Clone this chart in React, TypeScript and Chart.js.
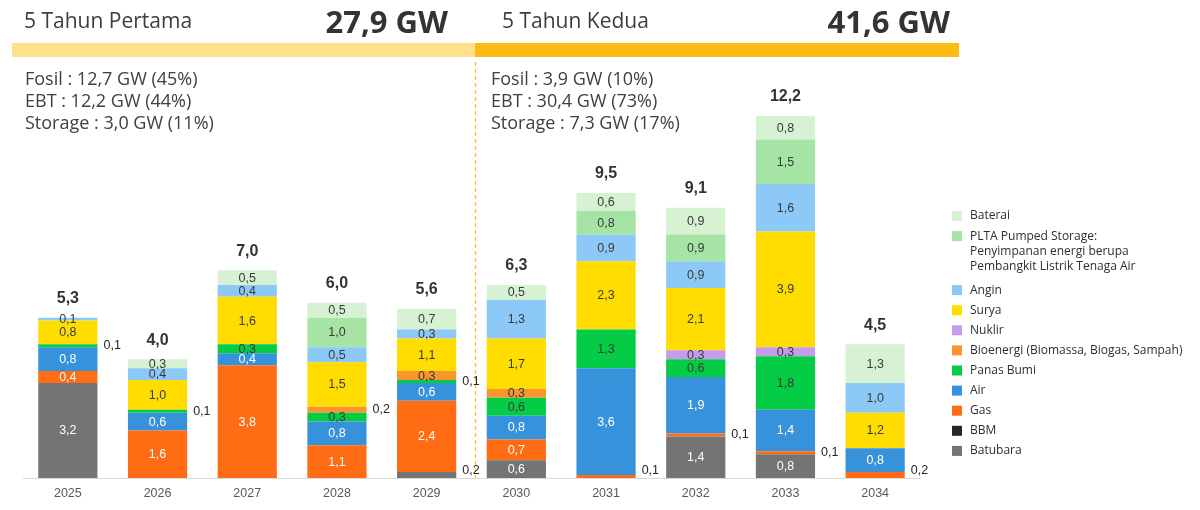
import { useEffect, useRef } from 'react';
import { Chart, registerables } from 'chart.js';

Chart.register(...registerables);

// Tambahan kapasitas pembangkit per tahun (GW)
const years = ['2025', '2026', '2027', '2028', '2029', '2030', '2031', '2032', '2033', '2034'];
const totals = ['5,3', '4,0', '7,0', '6,0', '5,6', '6,3', '9,5', '9,1', '12,2', '4,5'];

const batubara = [3.2, 0, 0, 0, 0.2, 0.6, 0, 1.4, 0.8, 0];
const bbm = [0, 0, 0, 0, 0, 0, 0, 0, 0, 0];
const gas = [0.4, 1.6, 3.8, 1.1, 2.4, 0.7, 0.1, 0.1, 0.1, 0.2];
const air = [0.8, 0.6, 0.4, 0.8, 0.6, 0.8, 3.6, 1.9, 1.4, 0.8];
const panasBumi = [0.1, 0.1, 0.3, 0.3, 0.1, 0.6, 1.3, 0.6, 1.8, 0];
const bioenergi = [0, 0, 0, 0.2, 0.3, 0.3, 0, 0, 0, 0];
const nuklir = [0, 0, 0, 0, 0, 0, 0, 0.3, 0.3, 0];
const surya = [0.8, 1.0, 1.6, 1.5, 1.1, 1.7, 2.3, 2.1, 3.9, 1.2];
const angin = [0.1, 0.4, 0.4, 0.5, 0.3, 1.3, 0.9, 0.9, 1.6, 1.0];
const pumpedStorage = [0, 0, 0, 1.0, 0, 0, 0.8, 0.9, 1.5, 0];
const baterai = [0, 0.3, 0.5, 0.5, 0.7, 0.5, 0.6, 0.9, 0.8, 1.3];

// Ringkasan per periode
const periodTitles = ['5 Tahun Pertama', '5 Tahun Kedua'];
const periodTotals = ['27,9 GW', '41,6 GW'];
const periodSummary = [
  ['Fosil : 12,7 GW (45%)', 'EBT : 12,2 GW (44%)', 'Storage : 3,0 GW (11%)'],
  ['Fosil : 3,9 GW (10%)', 'EBT : 30,4 GW (73%)', 'Storage : 7,3 GW (17%)'],
];

// Urutan tumpukan dari bawah ke atas
const series = [
  { label: ['Batubara'], data: batubara, color: '#747474', text: '#ffffff' },
  { label: ['BBM'], data: bbm, color: '#262626', text: '#ffffff' },
  { label: ['Gas'], data: gas, color: '#ff6c14', text: '#ffffff' },
  { label: ['Air'], data: air, color: '#3792dc', text: '#ffffff' },
  { label: ['Panas Bumi'], data: panasBumi, color: '#05cc45', text: '#3a3a3a' },
  { label: ['Bioenergi (Biomassa, Biogas, Sampah)'], data: bioenergi, color: '#f8952e', text: '#3a3a3a' },
  { label: ['Nuklir'], data: nuklir, color: '#c39cee', text: '#3a3a3a' },
  { label: ['Surya'], data: surya, color: '#ffdd00', text: '#3a3a3a' },
  { label: ['Angin'], data: angin, color: '#8dc9f6', text: '#3a3a3a' },
  {
    label: ['PLTA Pumped Storage:', 'Penyimpanan energi berupa', 'Pembangkit Listrik Tenaga Air'],
    data: pumpedStorage,
    color: '#a6e4a5',
    text: '#3a3a3a',
  },
  { label: ['Baterai'], data: baterai, color: '#d6f2d3', text: '#3a3a3a' },
];

const fmt = (v: number) => v.toFixed(1).replace('.', ',');

const headerPlugin = {
  id: 'header',
  beforeDraw(chart: any) {
    const ctx = chart.ctx;
    const area = chart.chartArea;
    ctx.save();
    // pita periode
    ctx.fillStyle = '#fde18c';
    ctx.fillRect(12, 43, 463, 14);
    ctx.fillStyle = '#fcbc14';
    ctx.fillRect(475, 43, 484, 14);
    // garis batas periode
    ctx.strokeStyle = '#f5c02a';
    ctx.lineWidth = 1.3;
    ctx.setLineDash([4, 3]);
    ctx.beginPath();
    ctx.moveTo(475.5, 62);
    ctx.lineTo(475.5, area.bottom);
    ctx.stroke();
    ctx.setLineDash([]);

    const left = [24, 502];
    const right = [448, 950];
    const sumX = [25, 491];
    for (let p = 0; p < 2; p++) {
      ctx.textBaseline = 'alphabetic';
      ctx.fillStyle = '#3d3d3d';
      ctx.textAlign = 'left';
      ctx.font = '400 21px "Open Sans"';
      ctx.fillText(periodTitles[p], left[p], 28);
      ctx.fillStyle = '#333333';
      ctx.textAlign = 'right';
      ctx.font = '700 31px "Open Sans"';
      ctx.fillText(periodTotals[p], right[p], 33);
      ctx.fillStyle = '#404040';
      ctx.textAlign = 'left';
      ctx.font = '400 18px "Open Sans"';
      periodSummary[p].forEach((line, k) => ctx.fillText(line, sumX[p], 85 + k * 22.2));
    }
    ctx.restore();
  },
  afterDraw(chart: any) {
    // legenda, dari atas ke bawah
    const ctx = chart.ctx;
    ctx.save();
    ctx.font = '400 12px "Open Sans"';
    ctx.textAlign = 'left';
    ctx.textBaseline = 'middle';
    let y = 216;
    for (let s = series.length - 1; s >= 0; s--) {
      const item = series[s];
      ctx.fillStyle = item.color;
      ctx.fillRect(952, y - 5, 10, 10);
      ctx.fillStyle = '#2e2e2e';
      item.label.forEach((line, k) => ctx.fillText(line, 970, y + k * 15));
      y += (item.label.length - 1) * 15 + (item.label.length > 1 ? 24 : 20.1);
    }
    ctx.restore();
  },
};

const valueLabelPlugin = {
  id: 'valueLabels',
  afterDatasetsDraw(chart: any) {
    const ctx = chart.ctx;
    const area = chart.chartArea;
    ctx.save();
    ctx.textBaseline = 'middle';
    const n = years.length;
    const tops: number[] = new Array(n).fill(Infinity);
    chart.data.datasets.forEach((ds: any, di: number) => {
      const meta = chart.getDatasetMeta(di);
      meta.data.forEach((bar: any, i: number) => {
        const v = ds.data[i];
        if (!v) return;
        const { x, y, base, width } = bar.getProps(['x', 'y', 'base', 'width'], true);
        tops[i] = Math.min(tops[i], y);
        const isTop = chart.data.datasets.slice(di + 1).every((d: any) => !d.data[i]);
        const cy = (y + base) / 2;
        ctx.font = '400 12.5px "Liberation Sans", Arial, sans-serif';
        if (v <= 0.2 && !isTop) {
          ctx.textAlign = 'left';
          ctx.fillStyle = '#262626';
          ctx.fillText(fmt(v), x + width / 2 + 6, Math.min(cy, area.bottom - 7));
        } else {
          ctx.textAlign = 'center';
          ctx.fillStyle = series[di].text;
          ctx.fillText(fmt(v), x, cy + 0.5);
        }
      });
    });
    const meta0 = chart.getDatasetMeta(0);
    ctx.font = '700 16px "Liberation Sans", Arial, sans-serif';
    ctx.fillStyle = '#333333';
    ctx.textAlign = 'center';
    meta0.data.forEach((bar: any, i: number) => {
      ctx.fillText(totals[i], bar.x, tops[i] - 19);
    });
    ctx.restore();
  },
};

export default function App() {
  const ref = useRef<HTMLCanvasElement | null>(null);

  useEffect(() => {
    if (!ref.current) return;
    const chart = new Chart(ref.current, {
      type: 'bar',
      data: {
        labels: years,
        datasets: series.map((s) => ({
          label: s.label.join(' '),
          data: s.data,
          backgroundColor: s.color,
          borderWidth: 0,
          barPercentage: 0.66,
          categoryPercentage: 1,
        })),
      },
      options: {
        responsive: false,
        animation: false,
        devicePixelRatio: 1,
        layout: { padding: { left: 23, right: 280, top: 10, bottom: 1 } },
        plugins: { legend: { display: false }, tooltip: { enabled: false } },
        scales: {
          x: {
            stacked: true,
            grid: { display: false, drawTicks: false },
            border: { display: true, color: '#d9d9d9', width: 1 },
            ticks: {
              color: '#595959',
              padding: 8,
              font: { family: '"Liberation Sans", Arial, sans-serif', size: 12.5 },
            },
          },
          y: {
            stacked: true,
            display: false,
            min: 0,
            max: 15.76,
          },
        },
      },
      plugins: [headerPlugin, valueLabelPlugin],
    });
    return () => chart.destroy();
  }, []);

  return (
    <div style={{ position: 'fixed', left: 0, top: 0, width: 1200, height: 510, background: '#ffffff' }}>
      <canvas ref={ref} width={1200} height={510} style={{ display: 'block' }} />
    </div>
  );
}
